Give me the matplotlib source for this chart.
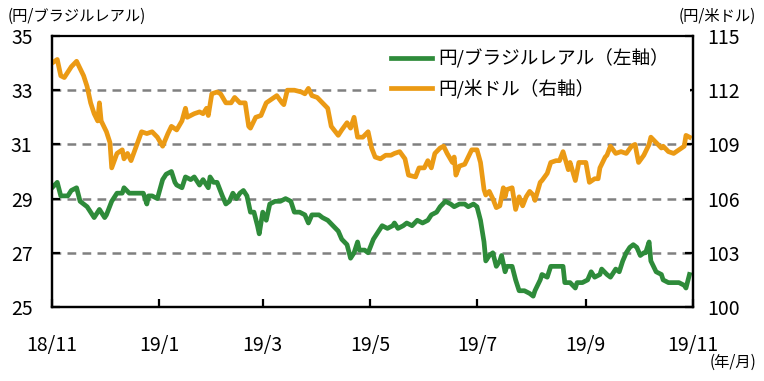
import pandas as pd
import matplotlib
matplotlib.use("Agg")
from matplotlib import pyplot as plt

plt.rcParams['font.family'] = ['Noto Sans CJK JP', 'DejaVu Sans']

# 円/ブラジルレアル (left axis)
brl_dates = [
    "2018-11-01", "2018-11-04", "2018-11-06", "2018-11-10", "2018-11-12", "2018-11-15",
    "2018-11-17", "2018-11-19", "2018-11-21", "2018-11-23", "2018-11-25", "2018-11-28",
    "2018-12-01", "2018-12-02", "2018-12-05", "2018-12-08", "2018-12-11", "2018-12-12",
    "2018-12-15", "2018-12-18", "2018-12-21", "2018-12-23", "2018-12-25", "2018-12-26",
    "2018-12-28", "2018-12-31", "2019-01-03", "2019-01-05", "2019-01-08", "2019-01-10",
    "2019-01-11", "2019-01-14", "2019-01-16", "2019-01-19", "2019-01-21", "2019-01-24",
    "2019-01-26", "2019-01-29", "2019-01-30", "2019-02-01", "2019-02-03", "2019-02-06",
    "2019-02-08", "2019-02-10", "2019-02-12", "2019-02-14", "2019-02-16", "2019-02-18",
    "2019-02-20", "2019-02-22", "2019-02-24", "2019-02-26", "2019-02-27", "2019-03-01",
    "2019-03-03", "2019-03-05", "2019-03-08", "2019-03-11", "2019-03-14", "2019-03-17",
    "2019-03-19", "2019-03-22", "2019-03-25", "2019-03-27", "2019-03-29", "2019-04-02",
    "2019-04-04", "2019-04-07", "2019-04-10", "2019-04-13", "2019-04-15", "2019-04-18",
    "2019-04-20", "2019-04-22", "2019-04-24", "2019-04-25", "2019-04-28", "2019-04-30",
    "2019-05-03", "2019-05-05", "2019-05-08", "2019-05-11", "2019-05-14", "2019-05-15",
    "2019-05-17", "2019-05-20", "2019-05-22", "2019-05-25", "2019-05-28", "2019-05-31",
    "2019-06-03", "2019-06-05", "2019-06-08", "2019-06-10", "2019-06-13", "2019-06-16",
    "2019-06-18", "2019-06-21", "2019-06-24", "2019-06-26", "2019-06-29", "2019-07-01",
    "2019-07-03", "2019-07-05", "2019-07-06", "2019-07-08", "2019-07-10", "2019-07-12",
    "2019-07-14", "2019-07-15", "2019-07-17", "2019-07-18", "2019-07-21", "2019-07-23",
    "2019-07-25", "2019-07-28", "2019-07-31", "2019-08-02", "2019-08-03", "2019-08-06",
    "2019-08-07", "2019-08-10", "2019-08-12", "2019-08-15", "2019-08-17", "2019-08-19",
    "2019-08-20", "2019-08-23", "2019-08-26", "2019-08-27", "2019-08-30", "2019-09-02",
    "2019-09-04", "2019-09-06", "2019-09-09", "2019-09-10", "2019-09-13", "2019-09-15",
    "2019-09-18", "2019-09-20", "2019-09-22", "2019-09-24", "2019-09-26", "2019-09-28",
    "2019-09-30", "2019-10-02", "2019-10-04", "2019-10-05", "2019-10-07", "2019-10-08",
    "2019-10-11", "2019-10-14", "2019-10-15", "2019-10-18", "2019-10-21", "2019-10-24",
    "2019-10-27", "2019-10-28", "2019-10-30",
]
brl_values = [
    29.4, 29.6, 29.1, 29.1, 29.3, 29.4,
    28.9, 28.8, 28.7, 28.5, 28.3, 28.6,
    28.3, 28.4, 28.9, 29.2, 29.2, 29.4,
    29.2, 29.2, 29.2, 29.2, 28.8, 29.1,
    29.1, 29.0, 29.7, 29.9, 30.0, 29.6,
    29.5, 29.4, 29.8, 29.7, 29.8, 29.5,
    29.7, 29.4, 29.8, 29.6, 29.6, 29.1,
    28.8, 28.9, 29.2, 29.0, 29.2, 29.3,
    29.1, 28.5, 28.5, 28.0, 27.7, 28.5,
    28.2, 28.8, 28.9, 28.9, 29.0, 28.9,
    28.5, 28.5, 28.4, 28.1, 28.4, 28.4,
    28.3, 28.2, 28.0, 27.8, 27.5, 27.3,
    26.8, 27.0, 27.4, 27.1, 27.1, 27.0,
    27.5, 27.7, 28.0, 27.9, 28.0, 28.1,
    27.9, 28.0, 28.1, 28.0, 28.2, 28.1,
    28.2, 28.4, 28.5, 28.7, 28.9, 28.8,
    28.7, 28.8, 28.8, 28.7, 28.8, 28.7,
    28.2, 27.4, 26.7, 26.9, 27.0, 26.5,
    26.7, 26.9, 26.3, 26.5, 26.5, 26.0,
    25.6, 25.6, 25.5, 25.4, 25.6, 26.0,
    26.2, 26.1, 26.5, 26.5, 26.5, 26.5,
    25.9, 25.9, 25.7, 25.9, 25.9, 26.0,
    26.3, 26.1, 26.2, 26.4, 26.2, 26.1,
    26.4, 26.3, 26.7, 27.0, 27.2, 27.3,
    27.2, 26.9, 27.0, 27.0, 27.4, 26.7,
    26.3, 26.2, 26.0, 25.9, 25.9, 25.9,
    25.8, 25.7, 26.2,
]

# 円/米ドル (right axis)
usd_dates = [
    "2018-11-01", "2018-11-04", "2018-11-06", "2018-11-08", "2018-11-10", "2018-11-12",
    "2018-11-15", "2018-11-17", "2018-11-19", "2018-11-21", "2018-11-23", "2018-11-25",
    "2018-11-27", "2018-11-28", "2018-11-29", "2018-12-02", "2018-12-04", "2018-12-05",
    "2018-12-08", "2018-12-11", "2018-12-12", "2018-12-14", "2018-12-16", "2018-12-19",
    "2018-12-22", "2018-12-25", "2018-12-28", "2018-12-31", "2019-01-03", "2019-01-06",
    "2019-01-08", "2019-01-11", "2019-01-14", "2019-01-16", "2019-01-17", "2019-01-21",
    "2019-01-24", "2019-01-26", "2019-01-28", "2019-01-29", "2019-01-31", "2019-02-03",
    "2019-02-05", "2019-02-08", "2019-02-11", "2019-02-13", "2019-02-16", "2019-02-19",
    "2019-02-21", "2019-02-22", "2019-02-25", "2019-02-28", "2019-03-03", "2019-03-06",
    "2019-03-09", "2019-03-12", "2019-03-13", "2019-03-15", "2019-03-19", "2019-03-23",
    "2019-03-25", "2019-03-27", "2019-03-29", "2019-04-01", "2019-04-04", "2019-04-07",
    "2019-04-09", "2019-04-13", "2019-04-15", "2019-04-18", "2019-04-20", "2019-04-22",
    "2019-04-24", "2019-04-27", "2019-04-30", "2019-05-02", "2019-05-04", "2019-05-07",
    "2019-05-10", "2019-05-13", "2019-05-15", "2019-05-18", "2019-05-21", "2019-05-23",
    "2019-05-27", "2019-05-29", "2019-06-01", "2019-06-03", "2019-06-05", "2019-06-07",
    "2019-06-10", "2019-06-12", "2019-06-14", "2019-06-17", "2019-06-18", "2019-06-19",
    "2019-06-21", "2019-06-24", "2019-06-26", "2019-06-28", "2019-07-01", "2019-07-03",
    "2019-07-05", "2019-07-06", "2019-07-08", "2019-07-10", "2019-07-12", "2019-07-14",
    "2019-07-16", "2019-07-17", "2019-07-18", "2019-07-21", "2019-07-23", "2019-07-25",
    "2019-07-27", "2019-07-29", "2019-07-31", "2019-08-02", "2019-08-03", "2019-08-06",
    "2019-08-07", "2019-08-10", "2019-08-12", "2019-08-15", "2019-08-17", "2019-08-19",
    "2019-08-22", "2019-08-23", "2019-08-26", "2019-08-28", "2019-09-01", "2019-09-03",
    "2019-09-06", "2019-09-08", "2019-09-09", "2019-09-12", "2019-09-13", "2019-09-15",
    "2019-09-18", "2019-09-21", "2019-09-24", "2019-09-27", "2019-09-29", "2019-10-01",
    "2019-10-04", "2019-10-07", "2019-10-08", "2019-10-11", "2019-10-14", "2019-10-15",
    "2019-10-18", "2019-10-21", "2019-10-24", "2019-10-27", "2019-10-28", "2019-10-30",
]
usd_values = [
    113.5, 113.7, 112.8, 112.7, 113.0, 113.3,
    113.6, 113.2, 112.8, 112.2, 111.3, 110.7,
    110.3, 111.3, 110.3, 109.7, 109.1, 107.7,
    108.5, 108.7, 108.2, 108.5, 108.1, 108.9,
    109.7, 109.6, 109.7, 109.4, 108.9, 109.6,
    110.0, 109.8, 110.3, 111.0, 110.5, 110.7,
    110.8, 110.7, 111.0, 110.6, 111.8, 111.9,
    111.8, 111.3, 111.3, 111.6, 111.3, 111.3,
    110.0, 109.9, 110.5, 110.6, 111.3, 111.5,
    111.7, 111.3, 111.2, 112.0, 112.0, 111.9,
    111.8, 112.1, 111.7, 111.6, 111.3, 111.0,
    110.0, 109.5, 109.8, 110.2, 109.9, 110.5,
    109.4, 109.4, 109.7, 108.8, 108.3, 108.2,
    108.4, 108.4, 108.5, 108.6, 108.2, 107.3,
    107.2, 107.7, 107.7, 108.1, 107.7, 108.5,
    108.8, 108.9, 108.5, 108.0, 108.3, 107.3,
    107.8, 107.9, 108.3, 108.7, 108.7, 108.0,
    106.5, 106.2, 106.4, 106.0, 105.5, 105.6,
    106.6, 106.1, 106.5, 106.6, 105.4, 106.1,
    105.6, 106.1, 106.4, 106.2, 105.9, 106.9,
    107.0, 107.4, 108.0, 108.1, 108.1, 108.6,
    107.6, 108.0, 107.0, 108.0, 108.0, 106.9,
    107.1, 107.1, 107.7, 108.3, 108.4, 108.9,
    108.5, 108.6, 108.5, 108.9, 109.0, 108.0,
    108.4, 109.0, 109.4, 109.1, 108.8, 108.9,
    108.6, 108.5, 108.7, 108.9, 109.5, 109.4,
]

xtick_dates = ["2018-11-01", "2019-01-01", "2019-03-01", "2019-05-01",
               "2019-07-01", "2019-09-01", "2019-11-01"]
xtick_labels = ["18/11", "19/1", "19/3", "19/5", "19/7", "19/9", "19/11"]
left_ticks = [25, 27, 29, 31, 33, 35]
right_ticks = [100, 103, 106, 109, 112, 115]

green = '#2E8B3A'
orange = '#EB9A14'

fig = plt.figure(figsize=(7.64, 3.81), dpi=100)
ax = fig.add_axes([52/764, 1-307/381, (693-52)/764, (307-36)/381])
ax2 = ax.twinx()

ax.plot(pd.to_datetime(brl_dates), brl_values, color=green, lw=3.4,
        label='円/ブラジルレアル（左軸）', solid_joinstyle='round')
ax2.plot(pd.to_datetime(usd_dates), usd_values, color=orange, lw=3.4,
         label='円/米ドル（右軸）', solid_joinstyle='round')

ax.set_xlim(pd.Timestamp("2018-11-01"), pd.Timestamp("2019-11-01"))
ax.set_ylim(25, 35)
ax2.set_ylim(100, 115)
ax.set_yticks(left_ticks)
ax2.set_yticks(right_ticks)
ax.set_xticks(pd.to_datetime(xtick_dates))
ax.set_xticklabels(xtick_labels)

for g in left_ticks[1:-1]:
    ax.axhline(g, color='#808080', lw=1.8, dashes=(3.5, 2.5), zorder=1)

for a in (ax, ax2):
    for s in a.spines.values():
        s.set_linewidth(1.6)
    a.spines['top'].set_visible(False)
ax.tick_params(axis='both', direction='in', length=6, width=1.6, labelsize=14)
ax.tick_params(axis='y', pad=14)
ax.tick_params(axis='x', pad=20)
ax2.tick_params(axis='y', direction='in', length=6, width=1.6, labelsize=14, pad=10)
ax.spines['top'].set_visible(True)

fig.text(8/764, 1-16/381, '(円/ブラジルレアル)', fontsize=11, va='center', ha='left')
fig.text(756/764, 1-16/381, '(円/米ドル)', fontsize=11, va='center', ha='right')
fig.text(756/764, 1-362/381, '(年/月)', fontsize=11, va='center', ha='right')

# legend box on white, reaching the right spine so the grid stays hidden behind it
h1, l1 = ax.get_legend_handles_labels()
h2, l2 = ax2.get_legend_handles_labels()
leg = ax2.legend(h1 + h2, l1 + l2, loc='upper left',
                 bbox_to_anchor=(382/764, 1-44/381, (690-382)/764, 0.01),
                 mode='expand', bbox_transform=fig.transFigure, fontsize=13.4,
                 frameon=True, facecolor='white', edgecolor='none', framealpha=1,
                 fancybox=False, handlelength=2.2, handletextpad=0.3,
                 labelspacing=0.55, borderpad=0.5, borderaxespad=0)

fig.savefig('out.png', dpi=100)
